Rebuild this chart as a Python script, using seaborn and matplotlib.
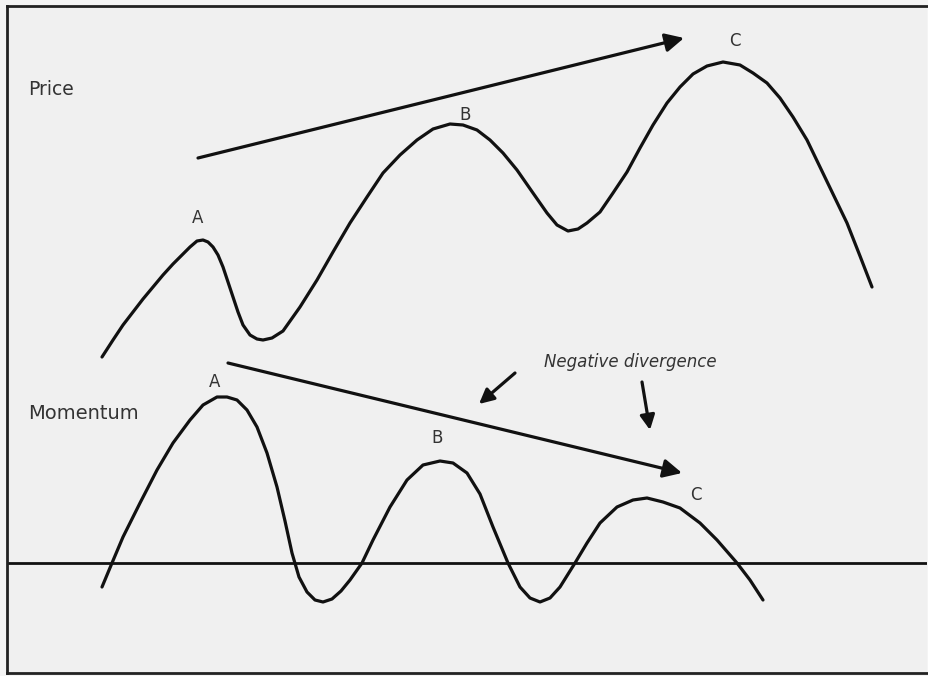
import seaborn as sns
import matplotlib.pyplot as plt
import pandas as pd

# curve points (x to the right, y downwards, in pixels)
price_x = [102, 113, 123, 133, 143, 153, 163, 173, 182, 190, 197, 203, 208, 213, 218, 223, 228, 233,
           238, 243, 250, 257, 263, 272, 283, 300, 317, 333, 350, 367, 383, 400, 417, 433,
           450, 463, 477, 490, 503, 517, 533, 547, 557, 568, 578, 587, 600, 613, 627, 640,
           653, 667, 680, 693, 707, 723, 740, 753, 767, 780, 793, 807, 820, 833, 847, 860, 872]
price_y = [357, 340, 325, 312, 299, 287, 275, 264, 255, 247, 241, 240, 242, 247, 255, 267, 282, 297,
           312, 325, 335, 339, 340, 338, 331, 307, 280, 252, 223, 197, 173, 155, 140, 129,
           124, 125, 130, 140, 153, 170, 193, 213, 225, 231, 229, 223, 212, 193, 172, 148,
           125, 103, 87, 74, 66, 62, 65, 73, 83, 98, 117, 140, 167, 194, 223, 256, 287]

mom_x = [102, 112, 123, 140, 157, 173, 190, 203, 217, 227, 237, 247, 257, 267, 277, 285, 292, 299,
         307, 315, 323, 332, 341, 350, 362, 373, 390, 407, 423, 440, 453, 467, 480, 493, 508,
         520, 530, 540, 550, 560, 575, 587, 600, 617, 633, 647, 663, 680, 700, 717, 737, 750, 763]
mom_y = [587, 563, 537, 503, 470, 443, 420, 405, 397, 397, 400, 410, 427, 453, 487, 521, 553, 577,
         592, 600, 602, 599, 591, 580, 563, 540, 507, 480, 465, 461, 463, 473, 494, 527, 563,
         587, 598, 602, 598, 587, 563, 543, 523, 507, 500, 498, 502, 508, 523, 540, 563, 580, 600]

zero_level = 563

# arrows: (start x, start y, tip x, tip y)
arrow_price = (198, 158, 684, 38)
arrow_mom = (228, 363, 682, 473)
arrow_note1 = (515, 373, 479, 404)
arrow_note2 = (642, 382, 650, 430)

peak_labels = ['A', 'B', 'C', 'A', 'B', 'C']
peak_label_x = [198, 465, 735, 215, 437, 696]
peak_label_y = [218, 115, 41, 382, 438, 495]

sns.set_theme(style='white')
plt.rcParams['font.family'] = ['DejaVu Sans']

fig = plt.figure(figsize=(9.29, 6.76), dpi=100)
fig.patch.set_facecolor('#f4f4f4')
ax = fig.add_axes([7 / 929, 1 - 673 / 676, 920 / 929, 667 / 676])
ax.set_facecolor('#f0f0f0')

df_price = pd.DataFrame({'x': price_x, 'y': price_y})
df_mom = pd.DataFrame({'x': mom_x, 'y': mom_y})
for df in [df_price, df_mom]:
    sns.lineplot(data=df, x='x', y='y', sort=False, estimator=None, color='#111111', lw=2.3,
                 solid_joinstyle='round', solid_capstyle='round', ax=ax)
ax.axhline(zero_level, color='#111111', lw=2.0)

for x0, y0, x1, y1 in [arrow_price, arrow_mom]:
    ax.annotate('', xy=(x1, y1), xytext=(x0, y0),
                arrowprops=dict(arrowstyle='-|>', color='#111111', lw=2.3,
                                mutation_scale=28, shrinkA=0, shrinkB=0))
for x0, y0, x1, y1 in [arrow_note1, arrow_note2]:
    ax.annotate('', xy=(x1, y1), xytext=(x0, y0),
                arrowprops=dict(arrowstyle='-|>', color='#111111', lw=2.3,
                                mutation_scale=22, shrinkA=0, shrinkB=0))

for lab, lx, ly in zip(peak_labels, peak_label_x, peak_label_y):
    ax.text(lx, ly, lab, ha='center', va='center', fontsize=12, color='#333333')

ax.text(28, 89, 'Price', ha='left', va='center', fontsize=13.5, color='#333333')
ax.text(28, 413, 'Momentum', ha='left', va='center', fontsize=14, color='#333333')
ax.text(630, 362, 'Negative divergence', ha='center', va='center', fontsize=12,
        style='italic', color='#333333')

ax.set_xlim(7, 927)
ax.set_ylim(673, 6)
ax.set_xticks([])
ax.set_yticks([])
ax.set_xlabel('')
ax.set_ylabel('')
for side in ['left', 'top', 'bottom']:
    ax.spines[side].set_linewidth(2.0)
    ax.spines[side].set_color('#222222')
ax.spines['right'].set_visible(False)

fig.savefig('out.png', dpi=100, facecolor=fig.get_facecolor())
